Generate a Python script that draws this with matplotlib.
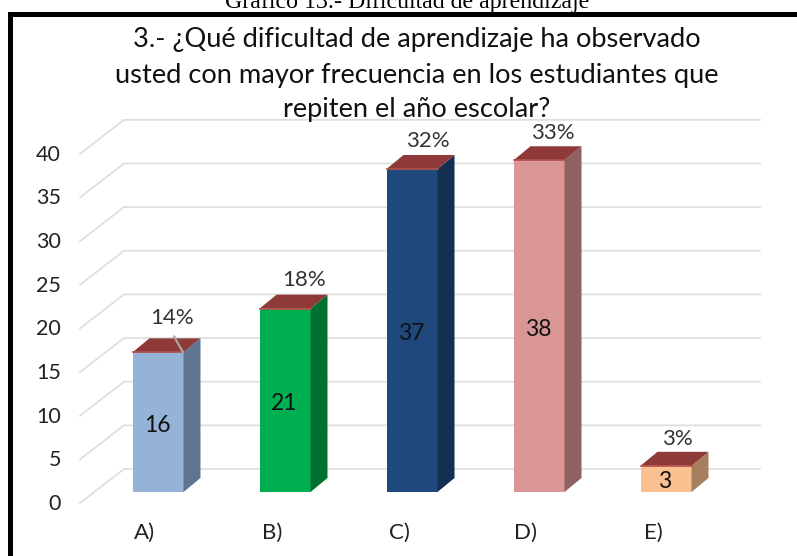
# grafico 13 - barras con efecto 3d
import numpy as np
import matplotlib.pyplot as plt
from matplotlib.patches import Polygon, Rectangle

categorias = ['A)', 'B)', 'C)', 'D)', 'E)']
valores = [16, 21, 37, 38, 3]
porcentajes = ['14%', '18%', '32%', '33%', '3%']
ticks_y = [0, 5, 10, 15, 20, 25, 30, 35, 40]

colores = ['#95B3D7', '#00B050', '#1F497D', '#D99694', '#FAC090']
laterales = ['#5F7490', '#007030', '#152F52', '#8F6160', '#A67F5E']
techo = '#8E3A38'
borde_techo = '#B5504C'

W, H = 797, 556
PX_X = 127.0    # pixeles por categoria
PX_Y = 8.73     # pixeles por unidad
X0, Y0 = 158, 492   # pixel de la categoria A y del valor 0

fig = plt.figure(figsize=(W / 100, H / 100), dpi=100)
ax = fig.add_axes([0, 0, 1, 1])
ax.set_xlim((0 - X0) / PX_X, (W - X0) / PX_X)
ax.set_ylim((Y0 - H) / PX_Y, Y0 / PX_Y)
ax.axis('off')

ancho = 51 / PX_X
dx, dy = 17 / PX_X, 14 / PX_Y

# rejilla: tramo inclinado y pared del fondo
gx0 = (80 - X0) / PX_X
gx1 = (124 - X0) / PX_X
gx2 = (760 - X0) / PX_X
for t in ticks_y:
    ax.plot([gx0, gx1, gx2], [t - 11 / PX_Y, t + 23 / PX_Y, t + 23 / PX_Y],
            color='#DEDEDE', lw=1.25, zorder=1, solid_joinstyle='miter')
    ax.text((61 - X0) / PX_X, t - 12 / PX_Y, str(t), ha='right', va='center',
            fontsize=15.5, family='Lato', color='#222222')

for i, v in enumerate(valores):
    izq, der = i - ancho / 2, i + ancho / 2
    ax.bar(i, v, width=ancho, color=colores[i], zorder=3)
    ax.add_patch(Polygon([(der, 0), (der + dx, dy), (der + dx, v + dy), (der, v)],
                         color=laterales[i], lw=0, zorder=3))
    ax.add_patch(Polygon([(izq, v), (izq + dx, v + dy), (der + dx, v + dy), (der, v)],
                         color=techo, lw=0, zorder=3))
    ax.plot([izq, der], [v, v], color=borde_techo, lw=1.2, zorder=4)
    ax.text(i - 1 / PX_X, v / 2 - 3 / PX_Y, str(v), ha='center', va='center',
            fontsize=16.5, family='Lato', color='#111111', zorder=5)
    ax.text(i - 13 / PX_X, (Y0 - 533) / PX_Y, categorias[i], ha='center', va='center',
            fontsize=16, family='Lato', color='#222222')

# porcentajes sobre cada barra
desp_x = [14, 19, 16, 14, 11]
desp_y = [34, 29, 28, 27, 27]
for i, v in enumerate(valores):
    ax.annotate(porcentajes[i], (i, v), xytext=(desp_x[i] * 0.72, desp_y[i] * 0.72),
                textcoords='offset points', ha='center', va='center',
                fontsize=16, family='Lato', color='#333333', zorder=5)

# linea guia de 14%
ax.annotate('', xy=(0 + 25 / PX_X, valores[0]), xytext=(0 + 16 / PX_X, valores[0] + 16 / PX_Y),
            arrowprops=dict(arrowstyle='-', color='#A6A6A6', lw=1.6, shrinkA=0, shrinkB=0),
            zorder=5)

# titulo
titulo = ['3.- ¿Qué dificultad de aprendizaje ha observado',
          'usted con mayor frecuencia en los estudiantes que',
          'repiten el año escolar?']
for linea, py in zip(titulo, [39, 75, 110]):
    fig.text(417 / W, 1 - py / H, linea, ha='center', va='center',
             fontsize=19.6, family='Lato', color='#111111')

fig.text(407 / W, 1 - 8 / H, 'Gráfico 13.- Dificultad de aprendizaje', ha='center',
         va='baseline', fontsize=17.2, family='Liberation Serif', color='black')

# marco negro de la captura
fig.add_artist(Rectangle((8 / W, 0), 5 / W, 1 - 12 / H, transform=fig.transFigure,
                         color='black', lw=0))
fig.add_artist(Rectangle((8 / W, 1 - 17 / H), 1 - 8 / W, 5 / H, transform=fig.transFigure,
                         color='black', lw=0))

fig.savefig('out.png', dpi=100)
